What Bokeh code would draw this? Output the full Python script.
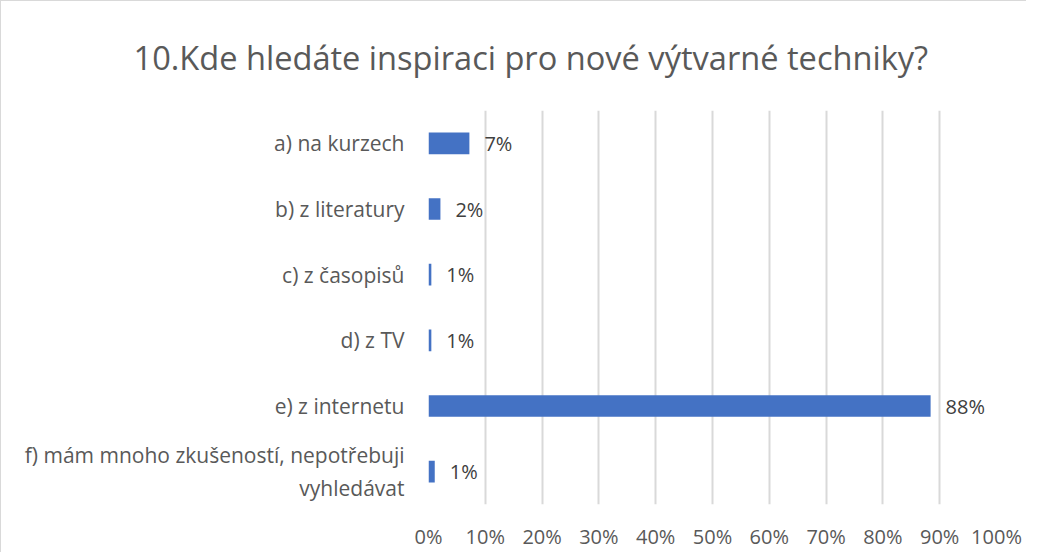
from bokeh.plotting import figure
from bokeh.models import FactorRange, Range1d, ColumnDataSource, NumeralTickFormatter, FixedTicker, LabelSet, Title
from bokeh.core.properties import value
from bokeh.embed import file_html
from bokeh.resources import INLINE

title_text = "10.Kde hledáte inspiraci pro nové výtvarné techniky?"
categories = [
    "a) na kurzech",
    "b) z literatury",
    "c) z časopisů",
    "d) z TV",
    "e) z internetu",
    "f) mám mnoho zkušeností, nepotřebuji\nvyhledávat",
]
shares = [0.072, 0.021, 0.005, 0.005, 0.884, 0.011]
x_ticks = [0, 0.1, 0.2, 0.3, 0.4, 0.5, 0.6, 0.7, 0.8, 0.9, 1.0]

FONT = "Open Sans"
labels = [f"{int(v * 100 + 0.5)}%" for v in shares]
src = ColumnDataSource(dict(cat=categories, val=shares, lab=labels))

p = figure(
    frame_width=568, frame_height=394,
    y_range=FactorRange(factors=categories[::-1], range_padding=0),
    x_range=Range1d(0, 1),
    output_backend="svg", toolbar_location=None,
    min_border_left=427, min_border_right=30,
    min_border_top=108, min_border_bottom=41,
    title=None,
)
p.styles = {"border-left": "1px solid #d9d9d9", "border-top": "1px solid #d9d9d9"}
p.outline_line_color = None
p.background_fill_color = "white"
p.border_fill_color = "white"

p.hbar(y="cat", right="val", left=0, height=0.33, source=src,
       fill_color="#4472C4", line_color=None)

p.add_layout(LabelSet(x="val", y="cat", text="lab", source=src, x_offset=15,
                      text_align="left", text_baseline="middle",
                      text_font=value(FONT), text_font_size="20px",
                      text_color="#404040"))

p.xaxis.ticker = FixedTicker(ticks=x_ticks)
p.xaxis.formatter = NumeralTickFormatter(format="0%")
p.xaxis.axis_line_color = None
p.xaxis.major_tick_line_color = None
p.xaxis.minor_tick_line_color = None
p.xaxis.major_label_standoff = 12
p.xaxis.major_label_text_font = FONT
p.xaxis.major_label_text_font_size = "20px"
p.xaxis.major_label_text_color = "#595959"

p.yaxis.axis_line_color = None
p.yaxis.major_tick_line_color = None
p.yaxis.major_label_standoff = 18
p.yaxis.major_label_text_font = FONT
p.yaxis.major_label_text_font_size = "21px"
p.yaxis.major_label_text_color = "#595959"

p.xgrid.grid_line_color = "#d9d9d9"
p.xgrid.grid_line_width = 2
p.ygrid.grid_line_color = None

p.add_layout(Title(text=title_text, align="left", offset=-295, standoff=62,
                   vertical_align="bottom", text_font=FONT, text_font_size="32.6px",
                   text_font_style="normal", text_color="#595959"), "above")

open("out.html", "w").write(file_html(p, INLINE))
